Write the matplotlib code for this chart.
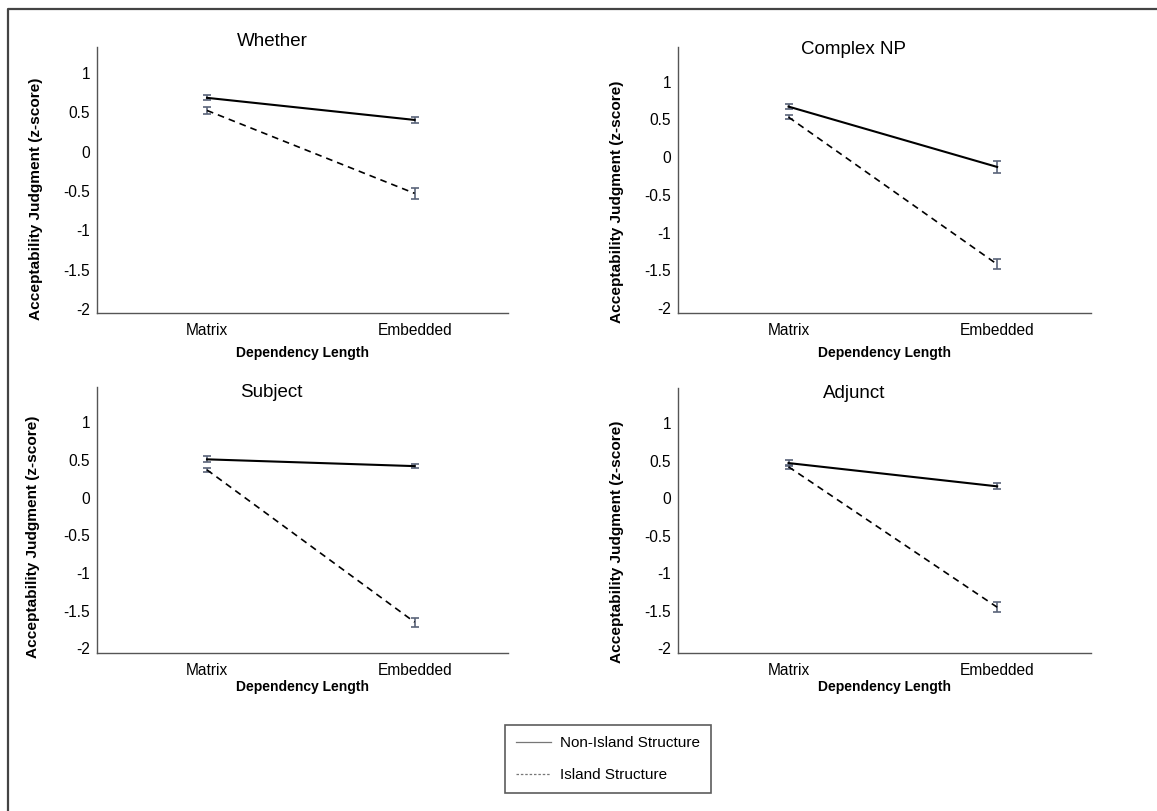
import numpy as np
import matplotlib.pyplot as plt
import matplotlib as mpl
from matplotlib.lines import Line2D

mpl.rcParams["font.family"] = ["Liberation Sans", "DejaVu Sans"]
mpl.rcParams["axes.unicode_minus"] = False

# data
conditions = ["Matrix", "Embedded"]
titles = ["Whether", "Complex NP", "Subject", "Adjunct"]
non_island = [[0.68, 0.40], [0.67, -0.13], [0.51, 0.42], [0.47, 0.16]]
non_island_err = [[0.03, 0.04], [0.03, 0.077], [0.04, 0.03], [0.04, 0.04]]
island = [[0.52, -0.53], [0.53, -1.42], [0.37, -1.65], [0.42, -1.45]]
island_err = [[0.04, 0.072], [0.03, 0.066], [0.03, 0.06], [0.03, 0.066]]
yticks = [-2, -1.5, -1, -0.5, 0, 0.5, 1]
ytick_labels = ["-2", "-1.5", "-1", "-0.5", "0", "0.5", "1"]

W, H = 1157, 811
fig = plt.figure(figsize=(W / 100, H / 100), dpi=100)

# panel boxes in pixels: left, right, top, bottom
boxes = [(97, 508, 47, 313), (678, 1091, 47, 313),
         (97, 508, 387, 653), (678, 1091, 388, 653)]
ylims = [(-2.046, 1.324), (-2.066, 1.46), (-2.06, 1.47), (-2.06, 1.47)]
title_xy = [(0.427, 1.019), (0.426, 0.992), (0.425, 0.979), (0.426, 0.979)]
xlabel_y = [-0.149, -0.152, -0.128, -0.128]
ylabel_xy = [(-0.148, 0.43), (-0.148, 0.419), (-0.156, 0.436), (-0.148, 0.418)]

err_col = "#5a6479"
x = np.arange(len(conditions))

for i in range(4):
    l, r, t, b = boxes[i]
    ax = fig.add_axes([l / W, 1 - b / H, (r - l) / W, (b - t) / H])
    ax.errorbar(x, island[i], yerr=island_err[i], color="black", lw=1.2,
                ls=(0, (4, 3)), ecolor=err_col, elinewidth=1.2, capsize=3,
                capthick=1.2)
    ax.errorbar(x, non_island[i], yerr=non_island_err[i], color="black", lw=1.5,
                ecolor=err_col, elinewidth=1.2, capsize=3, capthick=1.2)
    ax.set_xlim(-0.53, 1.45)
    ax.set_ylim(*ylims[i])
    ax.set_xticks(x)
    ax.set_xticklabels(conditions)
    ax.set_yticks(yticks)
    ax.set_yticklabels(ytick_labels)
    ax.tick_params(length=0, labelsize=11.2)
    ax.tick_params(axis="x", pad=7)
    ax.tick_params(axis="y", pad=5)
    for s in ["top", "right"]:
        ax.spines[s].set_visible(False)
    for s in ["left", "bottom"]:
        ax.spines[s].set_color("#555555")
        ax.spines[s].set_linewidth(1.0)
    ax.text(title_xy[i][0], title_xy[i][1], titles[i], transform=ax.transAxes,
            ha="center", va="center", fontsize=13.5)
    ax.text(0.5, xlabel_y[i], "Dependency Length", transform=ax.transAxes,
            ha="center", va="center", fontsize=10, fontweight="bold")
    ax.text(ylabel_xy[i][0], ylabel_xy[i][1], "Acceptability Judgment (z-score)",
            transform=ax.transAxes, ha="center", va="center", rotation=90,
            fontsize=11.1, fontweight="bold")

handles = [Line2D([], [], color="#777777", lw=0.9),
           Line2D([], [], color="#777777", lw=0.9, ls=(0, (2, 1.5)))]
leg = fig.legend(handles, ["Non-Island Structure", "Island Structure"],
                 loc="upper left", bbox_to_anchor=(505 / W, 1 - 725 / H),
                 borderaxespad=0, fontsize=11, frameon=True, fancybox=False,
                 handlelength=2.3, handletextpad=0.6, labelspacing=1.2,
                 borderpad=0.72)
leg.get_frame().set_edgecolor("#333333")
leg.get_frame().set_linewidth(1.2)

# outer border (left and top only, image is cropped)
fig.add_artist(Line2D([8 / W, 8 / W, 1], [0, 1 - 9 / H, 1 - 9 / H],
                      transform=fig.transFigure, color="#444444", lw=1.6))

fig.savefig("out.png", dpi=100)
